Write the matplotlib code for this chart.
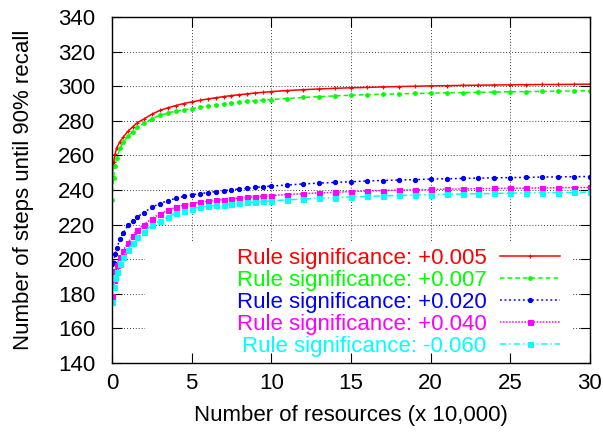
"""
Recall curves: number of steps until 90% recall vs. number of resources,
one curve per rule-significance threshold (gnuplot-look figure).

Writes:
  out.png
"""

import matplotlib
matplotlib.use("Agg")  # headless – no display needed
import matplotlib.pyplot as plt
from matplotlib.patches import Rectangle

# ── Data ──────────────────────────────────────────────────────────────────────
RESOURCES = [
    0.0, 0.1, 0.2, 0.3, 0.5, 0.7, 1.0, 1.3, 1.6, 2.0, 2.5, 3.0, 3.5, 4.0, 4.5,
    5.0, 5.5, 6.0, 6.5, 7.0, 7.5, 8.0, 8.5, 9.0, 9.5, 10.0,
    11.0, 12.0, 13.0, 14.0, 15.0, 16.0, 17.0, 18.0, 19.0, 20.0,
    21.0, 22.0, 23.0, 24.0, 25.0, 26.0, 27.0, 28.0, 29.0, 30.0,
]

STEPS_005 = [
    248.0, 256.0, 261.0, 264.5, 268.0, 270.5, 274.0, 276.5, 279.0, 281.0,
    283.8, 286.0, 287.5, 288.8, 290.0, 290.9, 291.8, 292.6, 293.3, 294.0,
    294.6, 295.1, 295.6, 296.1, 296.5, 296.9,
    297.5, 298.0, 298.4, 298.8, 299.1, 299.3, 299.6, 299.8, 300.0, 300.2,
    300.3, 300.5, 300.6, 300.7, 300.8, 300.9, 301.0, 301.0, 301.1, 301.2,
]
STEPS_007 = [
    234.5, 247.0, 254.0, 258.5, 264.0, 267.5, 271.0, 273.8, 276.3, 278.5,
    281.2, 283.2, 284.5, 285.6, 286.3, 287.0, 287.8, 288.5, 289.1, 289.8,
    290.3, 290.8, 291.2, 291.6, 292.0, 292.3,
    292.9, 293.5, 294.0, 294.4, 294.8, 295.1, 295.4, 295.6, 295.8, 296.0,
    296.2, 296.3, 296.5, 296.6, 296.8, 296.9, 297.0, 297.1, 297.3, 297.4,
]
STEPS_020 = [
    185.0, 198.0, 203.0, 206.5, 211.5, 215.0, 219.5, 222.0, 224.5, 227.0,
    230.0, 232.2, 233.8, 235.2, 236.3, 237.2, 237.9, 238.5, 239.1, 239.6,
    240.1, 240.6, 241.0, 241.5, 241.9, 242.3,
    242.9, 243.5, 244.0, 244.4, 244.8, 245.2, 245.5, 245.8, 246.0, 246.3,
    246.5, 246.7, 246.9, 247.0, 247.2, 247.3, 247.5, 247.6, 247.7, 247.8,
]
STEPS_040 = [
    179.0, 188.0, 193.0, 196.5, 201.5, 205.0, 209.5, 213.5, 217.0, 220.0,
    223.5, 226.2, 228.3, 230.0, 231.3, 232.2, 232.9, 233.5, 234.0, 234.5,
    234.9, 235.3, 235.7, 236.1, 236.4, 236.8,
    237.4, 237.9, 238.3, 238.7, 239.1, 239.4, 239.7, 239.9, 240.1, 240.3,
    240.5, 240.6, 240.8, 240.9, 241.0, 241.1, 241.2, 241.3, 241.4, 241.5,
]
STEPS_060 = [
    175.0, 184.0, 189.0, 192.5, 197.5, 201.0, 205.5, 209.5, 213.0, 216.0,
    219.5, 222.3, 224.6, 226.5, 228.1, 229.3, 230.0, 230.6, 231.1, 231.6,
    232.0, 232.4, 232.8, 233.1, 233.4, 233.7,
    234.3, 234.8, 235.2, 235.6, 236.0, 236.3, 236.6, 236.9, 237.1, 237.3,
    237.5, 237.7, 237.9, 238.0, 238.2, 238.3, 238.4, 238.5, 238.6, 238.7,
]

LABELS = [
    "Rule significance: +0.005",
    "Rule significance: +0.007",
    "Rule significance: +0.020",
    "Rule significance: +0.040",
    "Rule significance: -0.060",
]
SERIES = [STEPS_005, STEPS_007, STEPS_020, STEPS_040, STEPS_060]

XTICKS = [0, 5, 10, 15, 20, 25, 30]
YTICKS = [140, 160, 180, 200, 220, 240, 260, 280, 300, 320, 340]

# ── Styles (gnuplot-ish) ──────────────────────────────────────────────────────
STYLES = [
    dict(color="#ff0000", linestyle="-", marker="+", markersize=3),
    dict(color="#00ff00", linestyle=(0, (3, 2)), marker="o", markersize=2.6),
    dict(color="#0000ff", linestyle=(0, (1.2, 1.8)), marker="o", markersize=3),
    dict(color="#ff00ff", linestyle=(0, (1, 1)), marker="s", markersize=3.6),
    dict(color="#00ffff", linestyle=(0, (4, 2, 1, 2)), marker="s", markersize=3.6),
]
FONT = 16

plt.rcParams["font.family"] = ["Liberation Sans", "DejaVu Sans"]
plt.rcParams["font.size"] = FONT


def main() -> None:
    fig = plt.figure(figsize=(6.03, 4.32), dpi=100)
    ax = fig.add_axes([0.1857, 0.1597, 0.7927, 0.8009])

    # dotted grid, drawn by hand so the key patch can sit on top of it
    for xv in XTICKS[1:-1]:
        ax.axvline(xv, color="k", lw=0.6, ls=(0, (1, 2.5)), zorder=0.5)
    for yv in YTICKS[1:-1]:
        ax.axhline(yv, color="k", lw=0.6, ls=(0, (1, 2.5)), zorder=0.5)

    # opaque key area (hides the grid like gnuplot's key box)
    ax.add_patch(Rectangle((0.069, 0.0), 0.895, 0.35, transform=ax.transAxes,
                           facecolor="white", edgecolor="none", zorder=1))

    handles = []
    for ys, label, st in zip(SERIES, LABELS, STYLES):
        (ln,) = ax.plot(RESOURCES, ys, label=label, lw=1.1,
                        markeredgewidth=0.8, zorder=2, **st)
        handles.append(ln)

    ax.set_xlim(0, 30)
    ax.set_ylim(140, 340)
    ax.set_xticks(XTICKS)
    ax.set_yticks(YTICKS)
    ax.tick_params(direction="in", length=7, width=0.8, top=True, right=True,
                   labelsize=FONT)
    ax.tick_params(axis="y", pad=12)
    ax.tick_params(axis="x", pad=7)
    for sp in ax.spines.values():
        sp.set_linewidth(1.0)

    ax.set_xlabel("Number of resources (x 10,000)", fontsize=FONT, labelpad=8)
    ax.set_ylabel("Number of steps until 90% recall", fontsize=FONT, labelpad=17)

    ax.legend(handles=handles, loc="lower right", bbox_to_anchor=(0.937, 0.017),
              frameon=False, markerfirst=False, numpoints=1, handlelength=2.7,
              handletextpad=0.6, labelspacing=0.05, borderpad=0,
              borderaxespad=0, labelcolor="linecolor", fontsize=FONT)

    fig.savefig("out.png", dpi=100, facecolor="white")
    plt.close(fig)


if __name__ == "__main__":
    main()
